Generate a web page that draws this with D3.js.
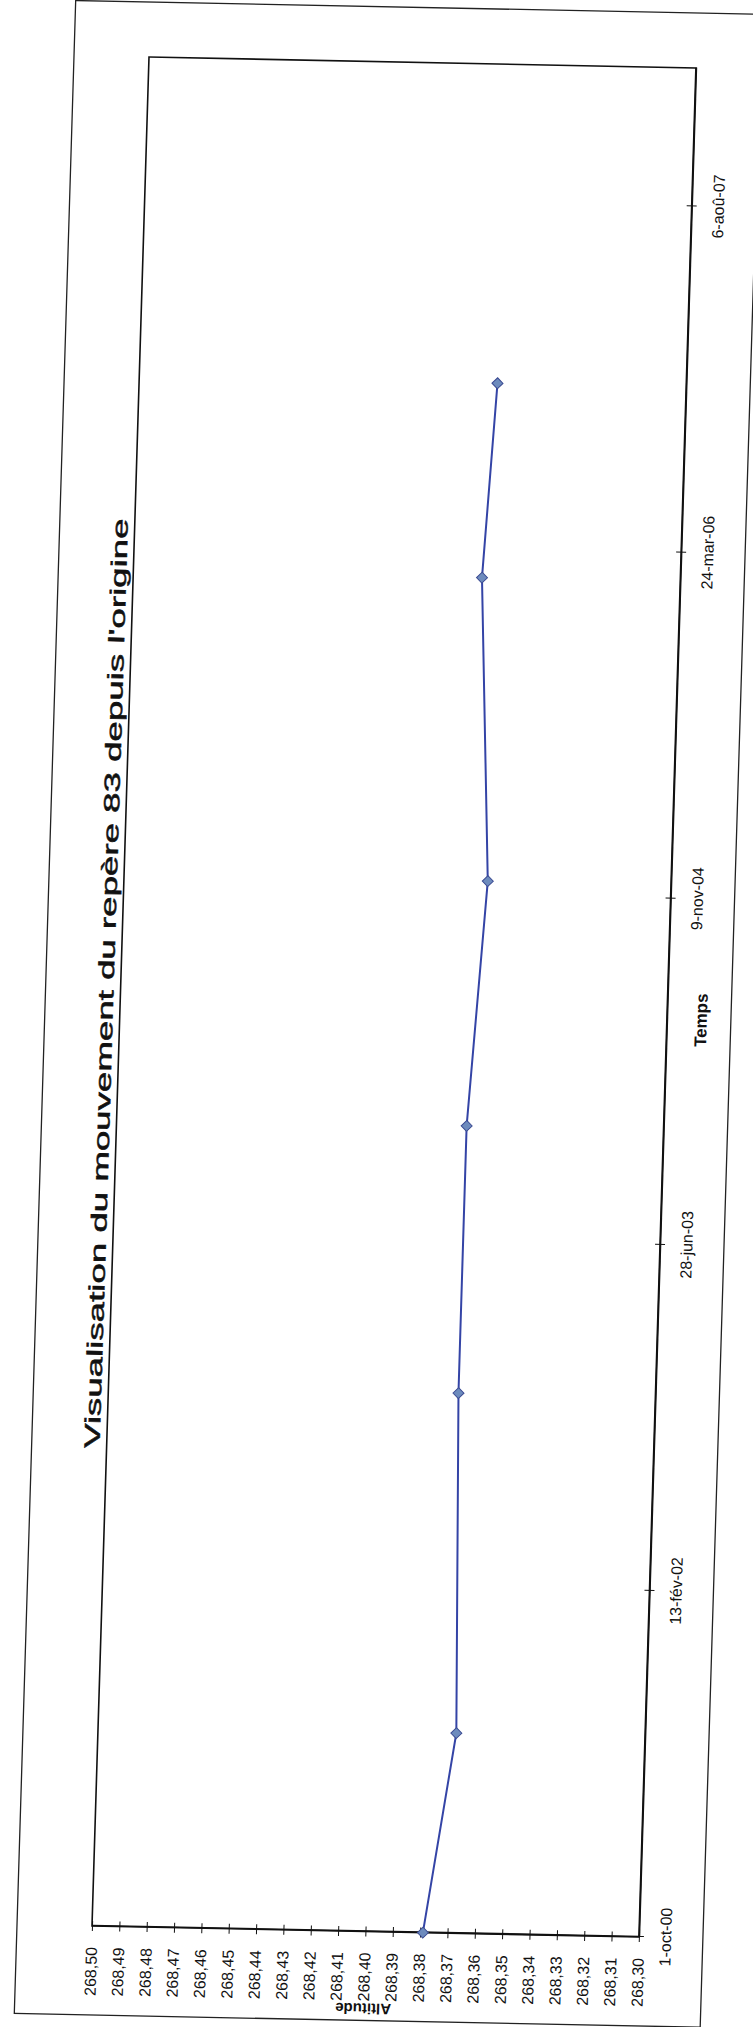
<!DOCTYPE html>
<html>
<head>
<meta charset="utf-8">
<script src="https://cdn.jsdelivr.net/npm/d3@7"></script>
<style>
body { margin: 0; background: #fff; }
svg text { font-family: "Liberation Sans", Arial, sans-serif; fill: #111; }
</style>
</head>
<body>
<svg id="chart"></svg>
<script>
// // data
var dates = ["2000-10-01", "2001-07-17", "2002-11-20", "2003-12-11", "2004-11-29", "2006-02-10", "2006-11-18"];
var altitudes = [268.379, 268.369, 268.372, 268.372, 268.367, 268.3725, 268.369];
//
var timeTicks = ["2000-10-01", "2002-02-13", "2003-06-28", "2004-11-09", "2006-03-24", "2007-08-06"];
var timeTickLabels = ["1-oct-00", "13-fév-02", "28-jun-03", "9-nov-04", "24-mar-06", "6-aoû-07"];
var altTicks = [268.50, 268.49, 268.48, 268.47, 268.46, 268.45, 268.44, 268.43, 268.42, 268.41, 268.40,
    268.39, 268.38, 268.37, 268.36, 268.35, 268.34, 268.33, 268.32, 268.31, 268.30];
var timeDomain = ["2000-10-01", "2008-02-22"];
var altDomain = [268.50, 268.30];

// // constants
const width = 753;
const height = 2027;
const plotW = 1870;
const plotH = 547;

var svg = d3.select('svg#chart').attr('width', width).attr('height', height)
svg.append('rect').attr('width', width).attr('height', height).attr('fill', '#fff')

// the page was scanned a quarter turn round and a little skewed,
// so the chart is drawn landscape and mapped onto the page
var g = svg.append('g')
    .attr('transform', 'matrix(0.03048,-0.99947,0.99982,0.02011,92,1926)')

var parse = d3.utcParse('%Y-%m-%d')
var fr = d3.formatLocale({decimal: ',', thousands: ' ', grouping: [3], currency: ['', ' €']})

var x = d3.scaleUtc()
    .domain(timeDomain.map(parse))
    .range([0, plotW])

var y = d3.scaleLinear()
    .domain(altDomain)
    .range([0, plotH])

// chart area border
g.append('rect')
    .attr('x', -89)
    .attr('y', -75)
    .attr('width', 2014)
    .attr('height', 686)
    .attr('fill', 'none')
    .attr('stroke', '#222')
    .attr('stroke-width', 1.3)

// plot area
g.append('rect')
    .attr('width', plotW)
    .attr('height', plotH)
    .attr('fill', 'none')
    .attr('stroke', '#111')
    .attr('stroke-width', 1.6)

var yAxis = g.append('g')
    .call(d3.axisLeft(y).tickValues(altTicks).tickFormat(fr.format('.2f'))
        .tickSize(5).tickSizeOuter(0).tickPadding(16))
    .attr('font-size', 16)
yAxis.selectAll('.tick line').attr('x1', 5).attr('stroke', '#111')
yAxis.select('.domain').attr('stroke', '#111').attr('stroke-width', 1.6)

var xAxis = g.append('g')
    .attr('transform', 'translate(0,' + plotH + ')')
    .call(d3.axisBottom(x).tickValues(timeTicks.map(parse)).tickFormat((d, i) => timeTickLabels[i])
        .tickSize(5).tickSizeOuter(0).tickPadding(16))
    .attr('font-size', 16)
xAxis.selectAll('.tick line').attr('y1', -5).attr('stroke', '#111')
xAxis.select('.domain').attr('stroke', '#111').attr('stroke-width', 1.6)

g.append('text')
    .attr('class', 'title')
    .attr('text-anchor', 'middle')
    .attr('x', 943)
    .attr('y', -7)
    .attr('textLength', 930)
    .attr('lengthAdjust', 'spacingAndGlyphs')
    .style('font-size', '22px')
    .style('stroke', '#111')
    .style('stroke-width', 0.5)
    .text("Visualisation du mouvement du repère 83 depuis l'origine")

g.append('text')
    .attr('class', 'x-label')
    .attr('text-anchor', 'middle')
    .attr('x', 918)
    .attr('y', plotH + 40)
    .style('font-size', '17px')
    .style('font-weight', 'bold')
    .text('Temps')

g.append('text')
    .attr('class', 'y-label')
    .attr('text-anchor', 'middle')
    .attr('transform', 'translate(-72,' + plotH / 2 + ') rotate(-90)')
    .style('font-size', '15px')
    .style('font-weight', 'bold')
    .text('Altitude')

var pts = dates.map(function(d, i) { return {date: parse(d), alt: altitudes[i]} })

var line = d3.line()
    .x(d => x(d.date))
    .y(d => y(d.alt))

g.append('path')
    .datum(pts)
    .attr('d', line)
    .attr('fill', 'none')
    .attr('stroke', '#3444a6')
    .attr('stroke-width', 2)

g.selectAll('path.marker')
    .data(pts)
    .enter()
    .append('path')
    .attr('class', 'marker')
    .attr('transform', d => 'translate(' + x(d.date) + ',' + y(d.alt) + ')')
    .attr('d', 'M0,-5.5L5.5,0L0,5.5L-5.5,0Z')
    .attr('fill', '#6d8bbd')
    .attr('stroke', '#3a4a92')
    .attr('stroke-width', 1)
</script>
</body>
</html>
